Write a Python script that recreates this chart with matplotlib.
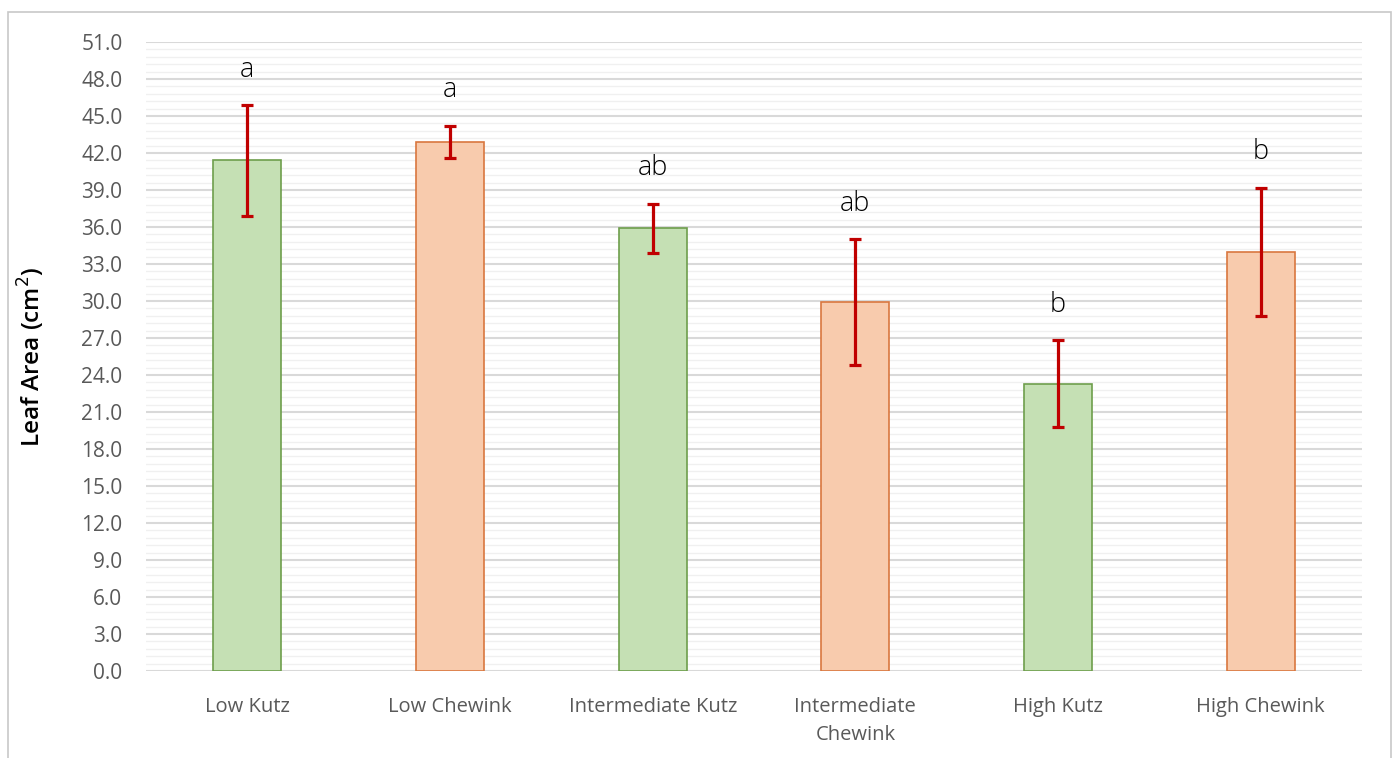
import numpy as np
import matplotlib.pyplot as plt
from matplotlib.ticker import MultipleLocator, FormatStrFormatter
from matplotlib.patches import Rectangle

plt.rcParams['font.family'] = ['Open Sans', 'DejaVu Sans']

# leaf area per site / cultivar
grupos = ["Low Kutz", "Low Chewink", "Intermediate Kutz",
          "Intermediate\nChewink", "High Kutz", "High Chewink"]
media = [41.4, 42.9, 35.9, 29.9, 23.3, 34.0]
error = [4.5, 1.3, 2.0, 5.1, 3.5, 5.2]
letras = ["a", "a", "ab", "ab", "b", "b"]

verde = "#C5E0B4"
verde_borde = "#6E9E4C"
naranja = "#F8CBAD"
naranja_borde = "#D9773F"
relleno = [verde, naranja] * 3
bordes = [verde_borde, naranja_borde] * 3

fig = plt.figure(figsize=(13.97, 7.58), dpi=100)
ax = fig.add_axes([0.1045, 0.1148, 0.8705, 0.8298])

x = np.arange(len(grupos))
ax.bar(x, media, width=0.335, color=relleno, edgecolor=bordes, linewidth=1.2, zorder=3)
ax.errorbar(x, media, yerr=error, fmt="none", ecolor="#C00000", elinewidth=2.3,
            capsize=4.5, capthick=2.3, zorder=4)

for xi, m, e, l in zip(x, media, error, letras):
    ax.text(xi, m + e + 2.3, l, ha="center", va="baseline", fontsize=19.5,
            fontweight="light", color="black")

ax.set_xlim(-0.5, 5.5)
ax.set_ylim(0, 51)
ax.yaxis.set_major_locator(MultipleLocator(3))
ax.yaxis.set_minor_locator(MultipleLocator(0.6))
ax.yaxis.set_major_formatter(FormatStrFormatter("%.1f"))
ax.grid(axis="y", which="major", color="#D9D9D9", linewidth=1.5, zorder=0)
ax.grid(axis="y", which="minor", color="#F0F0F0", linewidth=1.0, zorder=0)
ax.set_axisbelow(True)

ax.set_xticks(x)
ax.set_xticklabels(grupos, linespacing=1.5)
ax.tick_params(axis="both", which="both", length=0, colors="#595959")
ax.tick_params(axis="x", pad=19, labelsize=14.5)
ax.tick_params(axis="y", pad=17, labelsize=15)
for s in ax.spines.values():
    s.set_visible(False)

ax.set_ylabel("Leaf Area (cm$^2$)", fontsize=17.5, color="black", fontweight="semibold")
ax.yaxis.set_label_coords(-0.081, 0.5)

# marco exterior
marco = Rectangle((8 / 1397, -0.05), (1391 - 8) / 1397, 1.05 - 12 / 758,
                  transform=fig.transFigure, fill=False, edgecolor="#C8C8C8",
                  linewidth=1.2, clip_on=False)
fig.patches.append(marco)

fig.savefig("out.png", dpi=100, facecolor="white")
